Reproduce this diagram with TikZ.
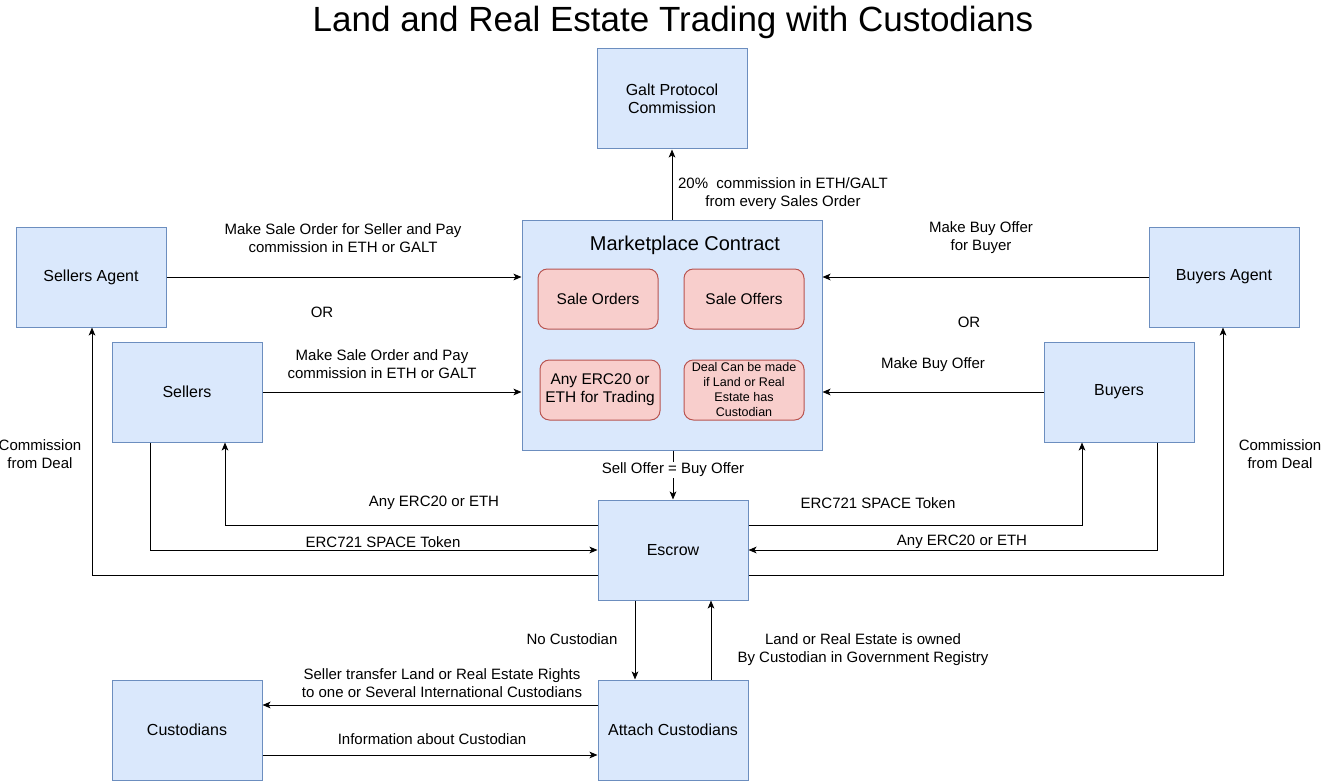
\documentclass[tikz,border=0pt]{standalone}
\usepackage{fontspec}
\setmainfont{Liberation Sans}
\usetikzlibrary{arrows.meta,calc}
\definecolor{bfill}{HTML}{DAE8FC}
\definecolor{bdraw}{HTML}{6C8EBF}
\definecolor{rfill}{HTML}{F8CECC}
\definecolor{rdraw}{HTML}{B85450}
\begin{document}
\begin{tikzpicture}[x=0.75pt,y=-0.75pt,
  box/.style={draw=bdraw,fill=bfill,line width=0.75pt,minimum width=112.5pt,minimum height=75pt,inner sep=0pt,align=center,font=\fontsize{12pt}{13.5pt}\selectfont},
  rbox/.style={draw=rdraw,fill=rfill,line width=0.75pt,rounded corners=7pt,minimum width=90pt,minimum height=45pt,inner sep=0pt,align=center,font=\fontsize{11.6pt}{13.5pt}\selectfont},
  lbl/.style={font=\fontsize{11.25pt}{13.5pt}\selectfont,align=center,inner sep=1pt,yshift=-1.5pt},
  conn/.style={line width=0.75pt,-{Stealth[length=6pt,width=5pt,inset=1.5pt]}},
]
\useasboundingbox[fill=white] (0,0) rectangle (1327,781);
\node[font=\fontsize{26.25pt}{30pt}\selectfont] (title) at (673,22) {Land and Real Estate Trading with Custodians};

\node[box] (galt) at (672,99) {Galt Protocol\\Commission};
\node[box,minimum width=225pt,minimum height=172.5pt] (mkt) at (672,335) {};
\node[font=\fontsize{15pt}{18pt}\selectfont] (mtitle) at (685,245) {Marketplace Contract};
\node[rbox] (so) at (598,299) {Sale Orders};
\node[rbox] (sof) at (744,299) {Sale Offers};
\node[rbox] (erc) at (600,390) {Any ERC20 or\\ETH for Trading};
\node[rbox,font=\fontsize{9.4pt}{11.25pt}\selectfont] (deal) at (744,390) {Deal Can be made\\if Land or Real\\Estate has\\Custodian};

\node[box] (sa) at (91,277) {Sellers Agent};
\node[box] (ba) at (1224,277) {Buyers Agent};
\node[box] (sel) at (187,392) {Sellers};
\node[box] (buy) at (1119,392) {Buyers};
\node[box] (esc) at (673,550) {Escrow};
\node[box] (att) at (673,730) {Attach Custodians};
\node[box] (cus) at (187,730) {Custodians};

% connectors
\draw[conn] (mkt.north) -- (galt.south);
\draw[conn] (sa.east) -- (sa.east -| mkt.west);
\draw[conn] (sel.east) -- (sel.east -| mkt.west);
\draw[conn] (ba.west) -- (ba.west -| mkt.east);
\draw[conn] (buy.west) -- (buy.west -| mkt.east);
\draw[conn] (esc.north |- mkt.south) -- (esc.north);
\draw[conn] ($(esc.west)+(0,-25)$) -| ($(sel.south)+(38,0)$);
\draw[conn] ($(sel.south)+(-37,0)$) |- (esc.west);
\draw[conn] ($(esc.east)+(0,-25)$) -| ($(buy.south)+(-37,0)$);
\draw[conn] ($(buy.south)+(38,0)$) |- (esc.east);
\draw[conn] ($(esc.west)+(0,25)$) -| ($(sa.south)+(1,0)$);
\draw[conn] ($(esc.east)+(0,25)$) -| ($(ba.south)+(-1,0)$);
\draw[conn] ($(esc.south)+(-38,0)$) -- ($(att.north)+(-38,0)$);
\draw[conn] ($(att.north)+(38,0)$) -- ($(esc.south)+(38,0)$);
\draw[conn] ($(att.west)+(0,-25)$) -- ($(cus.east)+(0,-25)$);
\draw[conn] ($(cus.east)+(0,25)$) -- ($(att.west)+(0,25)$);

% labels
\node[lbl] (l1) at (783,192) {20\%\ \ commission in ETH/GALT\\from every Sales Order};
\node[lbl] (l2) at (343,236) {Make Sale Order for Seller and Pay\\commission in ETH or GALT};
\node[lbl] (or1) at (322,310) {OR};
\node[lbl] (l3) at (382,362) {Make Sale Order and Pay\\commission in ETH or GALT};
\node[lbl] (l4) at (981,236) {Make Buy Offer\\for Buyer};
\node[lbl] (or2) at (969,320) {OR};
\node[lbl] (l5) at (933,363) {Make Buy Offer};
\node[lbl,fill=white] (l6) at (673,468) {Sell Offer = Buy Offer};
\node[lbl] (l7) at (434,501) {Any ERC20 or ETH};
\node[lbl] (l8) at (383,540) {ERC721 SPACE Token};
\node[lbl] (l9) at (878,501) {ERC721 SPACE Token};
\node[lbl] (l10) at (962,540) {Any ERC20 or ETH};
\node[lbl] (l11) at (40,452) {Commission\\from Deal};
\node[lbl] (l12) at (1280,452) {Commission\\from Deal};
\node[lbl] (l13) at (572,637) {No Custodian};
\node[lbl] (l14) at (863,648) {Land or Real Estate is owned\\By Custodian in Government Registry};
\node[lbl] (l15) at (442,681) {Seller transfer Land or Real Estate Rights\\to one or Several International Custodians};
\node[lbl] (l16) at (432,737) {Information about Custodian};
\end{tikzpicture}
\end{document}
